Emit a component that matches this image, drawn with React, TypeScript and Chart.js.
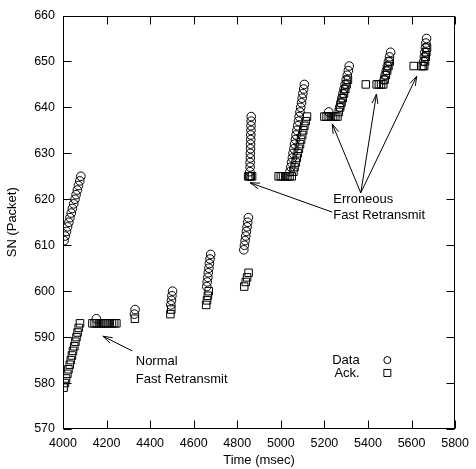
import React, { useEffect, useRef } from 'react';
import { Chart, registerables } from 'chart.js';

Chart.register(...registerables);

// ---- Data series (Time in msec, SN in packets) ----
const dataTime = [
  4005, 4010, 4016, 4021, 4027, 4032, 4038, 4043, 4049, 4055, 4060, 4066, 4071, 4077, 4082,
  4153,
  4328, 4331,
  4495, 4498, 4500, 4503,
  4660, 4662, 4665, 4667, 4670, 4672, 4675, 4678,
  4830, 4833, 4836, 4839, 4842, 4845, 4848, 4851,
  4858, 4858, 4859, 4859, 4860, 4860, 4861, 4861, 4862, 4862, 4863, 4863, 4864, 4864,
  5042, 5046, 5049, 5053, 5056, 5060, 5063, 5067, 5070, 5074, 5077, 5081, 5084, 5088, 5091, 5095, 5098, 5101, 5105, 5108,
  5220,
  5270, 5275, 5280, 5285, 5290, 5295, 5300, 5305, 5310, 5314,
  5474, 5479, 5484, 5489, 5494, 5499, 5504,
  5656, 5659, 5661, 5664, 5666, 5669,
];
const dataSN = [
  611, 612, 613, 614, 615, 616, 617, 618, 619, 620, 621, 622, 623, 624, 625,
  594,
  595, 596,
  597, 598, 599, 600,
  601, 602, 603, 604, 605, 606, 607, 608,
  609, 610, 611, 612, 613, 614, 615, 616,
  625, 626, 627, 628, 629, 630, 631, 632, 633, 634, 635, 636, 637, 638,
  626, 627, 628, 629, 630, 631, 632, 633, 634, 635, 636, 637, 638, 639, 640, 641, 642, 643, 644, 645,
  639,
  640, 641, 642, 643, 644, 645, 646, 647, 648, 649,
  646, 647, 648, 649, 650, 651, 652,
  650, 651, 652, 653, 654, 655,
];

const ackTime = [
  4003, 4009, 4014, 4020, 4025, 4031, 4036, 4041, 4046, 4052, 4057, 4062, 4067, 4072, 4078,
  4135, 4145, 4155, 4165, 4175, 4185, 4195, 4205, 4215, 4225, 4235, 4245,
  4330,
  4493, 4497,
  4657, 4661, 4665, 4669,
  4832, 4839, 4845, 4852,
  4850, 4856, 4862, 4868,
  4990, 5000, 5010, 5020, 5030, 5040, 5050,
  5058, 5063, 5068, 5073, 5078, 5083, 5088, 5093, 5098, 5103, 5108, 5114, 5120,
  5200, 5210, 5220, 5230, 5240, 5250, 5260,
  5266, 5272, 5278, 5284, 5290, 5296, 5302, 5308,
  5390,
  5440, 5450, 5460, 5470,
  5476, 5482, 5488, 5494, 5500,
  5610, 5645, 5652, 5658,
  5662, 5665, 5668, 5671,
];
const ackSN = [
  579, 580, 581, 582, 583, 584, 585, 586, 587, 588, 589, 590, 591, 592, 593,
  593, 593, 593, 593, 593, 593, 593, 593, 593, 593, 593, 593,
  594,
  595, 596,
  597, 598, 599, 600,
  601, 602, 603, 604,
  625, 625, 625, 625,
  625, 625, 625, 625, 625, 625, 625,
  626, 627, 628, 629, 630, 631, 632, 633, 634, 635, 636, 637, 638,
  638, 638, 638, 638, 638, 638, 638,
  639, 640, 641, 642, 643, 644, 645, 646,
  645,
  645, 645, 645, 645,
  646, 647, 648, 649, 650,
  649, 649, 649, 649,
  650, 651, 652, 653,
];

// ---- Axis ranges ----
const xRange = [4000, 5800];
const yRange = [570, 660];
const xStep = 200;
const yStep = 10;

// ---- Annotations (data coordinates) ----
const normalLabel = ['Normal', 'Fast Retransmit'];
const normalLabelPos = [[4334, 584.6], [4334, 580.8]];
const normalArrow = [[4318, 587.0], [4183, 590.2]];

const erroneousLabel = ['Erroneous', 'Fast Retransmit'];
const erroneousLabelPos = [[5241, 619.9], [5241, 616.4]];
const erroneousArrows = [
  [[5236, 617.2], [4859, 623.6]],
  [[5367, 621.4], [5236, 636.4]],
  [[5367, 621.4], [5439, 642.9]],
  [[5367, 621.4], [5624, 646.8]],
];

const legendLabels = ['Data', 'Ack.'];
const legendTextPos = [[5362, 585.0], [5362, 582.2]];
const legendMarkerX = 5489;

const FONT = '"Liberation Sans", Arial, Helvetica, sans-serif';

function drawArrow(ctx: CanvasRenderingContext2D, x1: number, y1: number, x2: number, y2: number) {
  const ang = Math.atan2(y2 - y1, x2 - x1);
  const len = 10;
  const spread = 0.3;
  ctx.beginPath();
  ctx.moveTo(x1, y1);
  ctx.lineTo(x2, y2);
  ctx.moveTo(x2 - len * Math.cos(ang - spread), y2 - len * Math.sin(ang - spread));
  ctx.lineTo(x2, y2);
  ctx.lineTo(x2 - len * Math.cos(ang + spread), y2 - len * Math.sin(ang + spread));
  ctx.stroke();
}

const framePlugin = {
  id: 'frameAndNotes',
  afterDraw(chart: any) {
    const { ctx, chartArea } = chart;
    const xs = chart.scales.x;
    const ys = chart.scales.y;
    const { left, right, top, bottom } = chartArea;
    const L = Math.round(left) + 0.5;
    const R = Math.round(right) - 0.5;
    const T = Math.round(top) + 0.5;
    const B = Math.round(bottom) - 0.5;
    ctx.save();
    ctx.strokeStyle = '#000';
    ctx.lineWidth = 1;
    ctx.strokeRect(L, T, R - L, B - T);
    const tl = 8;
    ctx.beginPath();
    xs.ticks.forEach((t: any) => {
      const px = Math.round(xs.getPixelForValue(t.value)) + 0.5;
      ctx.moveTo(px, B); ctx.lineTo(px, B - tl);
      ctx.moveTo(px, T); ctx.lineTo(px, T + tl);
    });
    ys.ticks.forEach((t: any) => {
      const py = Math.round(ys.getPixelForValue(t.value)) + 0.5;
      ctx.moveTo(L, py); ctx.lineTo(L + tl, py);
      ctx.moveTo(R, py); ctx.lineTo(R - tl, py);
    });
    ctx.stroke();

    const P = (p: number[]) => [xs.getPixelForValue(p[0]), ys.getPixelForValue(p[1])];

    // arrows
    ctx.lineWidth = 1;
    {
      const [a, b] = [P(normalArrow[0]), P(normalArrow[1])];
      drawArrow(ctx, a[0], a[1], b[0], b[1]);
    }
    erroneousArrows.forEach((seg) => {
      const a = P(seg[0]);
      const b = P(seg[1]);
      drawArrow(ctx, a[0], a[1], b[0], b[1]);
    });

    // labels
    ctx.fillStyle = '#000';
    ctx.font = `13px ${FONT}`;
    ctx.textBaseline = 'middle';
    ctx.textAlign = 'left';
    normalLabel.forEach((s, i) => {
      const p = P(normalLabelPos[i]);
      ctx.fillText(s, p[0], p[1]);
    });
    erroneousLabel.forEach((s, i) => {
      const p = P(erroneousLabelPos[i]);
      ctx.fillText(s, p[0], p[1]);
    });

    // legend
    ctx.textAlign = 'right';
    legendLabels.forEach((s, i) => {
      const p = P(legendTextPos[i]);
      ctx.fillText(s, p[0], p[1]);
      const mx = xs.getPixelForValue(legendMarkerX);
      ctx.beginPath();
      if (i === 0) {
        ctx.arc(mx, p[1], 3.5, 0, Math.PI * 2);
      } else {
        ctx.rect(mx - 3.5, p[1] - 3.5, 7, 7);
      }
      ctx.stroke();
    });
    ctx.restore();
  },
};

export default function App() {
  const ref = useRef<HTMLCanvasElement | null>(null);
  useEffect(() => {
    if (!ref.current) return;
    const chart = new Chart(ref.current, {
      type: 'scatter',
      data: {
        datasets: [
          {
            label: 'Data',
            data: dataTime.map((t, i) => ({ x: t, y: dataSN[i] })),
            pointStyle: 'circle',
            pointRadius: 4.3,
            pointBorderWidth: 1,
            borderColor: '#000',
            backgroundColor: 'rgba(0,0,0,0)',
            pointBackgroundColor: 'rgba(0,0,0,0)',
            pointBorderColor: '#000',
            showLine: false,
          },
          {
            label: 'Ack.',
            data: ackTime.map((t, i) => ({ x: t, y: ackSN[i] })),
            pointStyle: 'rect',
            pointRadius: 5.3,
            pointBorderWidth: 1,
            borderColor: '#000',
            backgroundColor: 'rgba(0,0,0,0)',
            pointBackgroundColor: 'rgba(0,0,0,0)',
            pointBorderColor: '#000',
            showLine: false,
          },
        ],
      },
      options: {
        animation: false,
        responsive: false,
        devicePixelRatio: 1,
        layout: { padding: { top: 14, right: 14, left: 0, bottom: 0 } },
        plugins: {
          legend: { display: false },
          tooltip: { enabled: false },
        },
        events: [],
        scales: {
          x: {
            type: 'linear',
            min: xRange[0],
            max: xRange[1],
            grid: { display: false, drawTicks: false },
            border: { display: false },
            ticks: {
              stepSize: xStep,
              color: '#000',
              font: { family: FONT, size: 12.5 },
              padding: 7,
              maxRotation: 0,
              autoSkip: false,
              callback: (v: any) => String(v),
            },
            title: {
              display: true,
              text: 'Time (msec)',
              color: '#000',
              font: { family: FONT, size: 13 },
              padding: { top: 0, bottom: 1 },
            },
            afterFit: (s: any) => { s.height = 40; },
          },
          y: {
            type: 'linear',
            min: yRange[0],
            max: yRange[1],
            grid: { display: false, drawTicks: false },
            border: { display: false },
            ticks: {
              stepSize: yStep,
              color: '#000',
              font: { family: FONT, size: 12.5 },
              padding: 8,
              autoSkip: false,
              callback: (v: any) => String(v),
            },
            title: {
              display: true,
              text: 'SN (Packet)',
              color: '#000',
              font: { family: FONT, size: 13 },
              padding: { top: 5, bottom: 0 },
            },
            afterFit: (s: any) => { s.width = 63; },
          },
        },
      },
      plugins: [framePlugin],
    });
    return () => chart.destroy();
  }, []);
  return (
    <div style={{ position: 'absolute', left: 0, top: 0, width: 476, height: 469, background: '#fff' }}>
      <canvas ref={ref} width={476} height={469} />
    </div>
  );
}
